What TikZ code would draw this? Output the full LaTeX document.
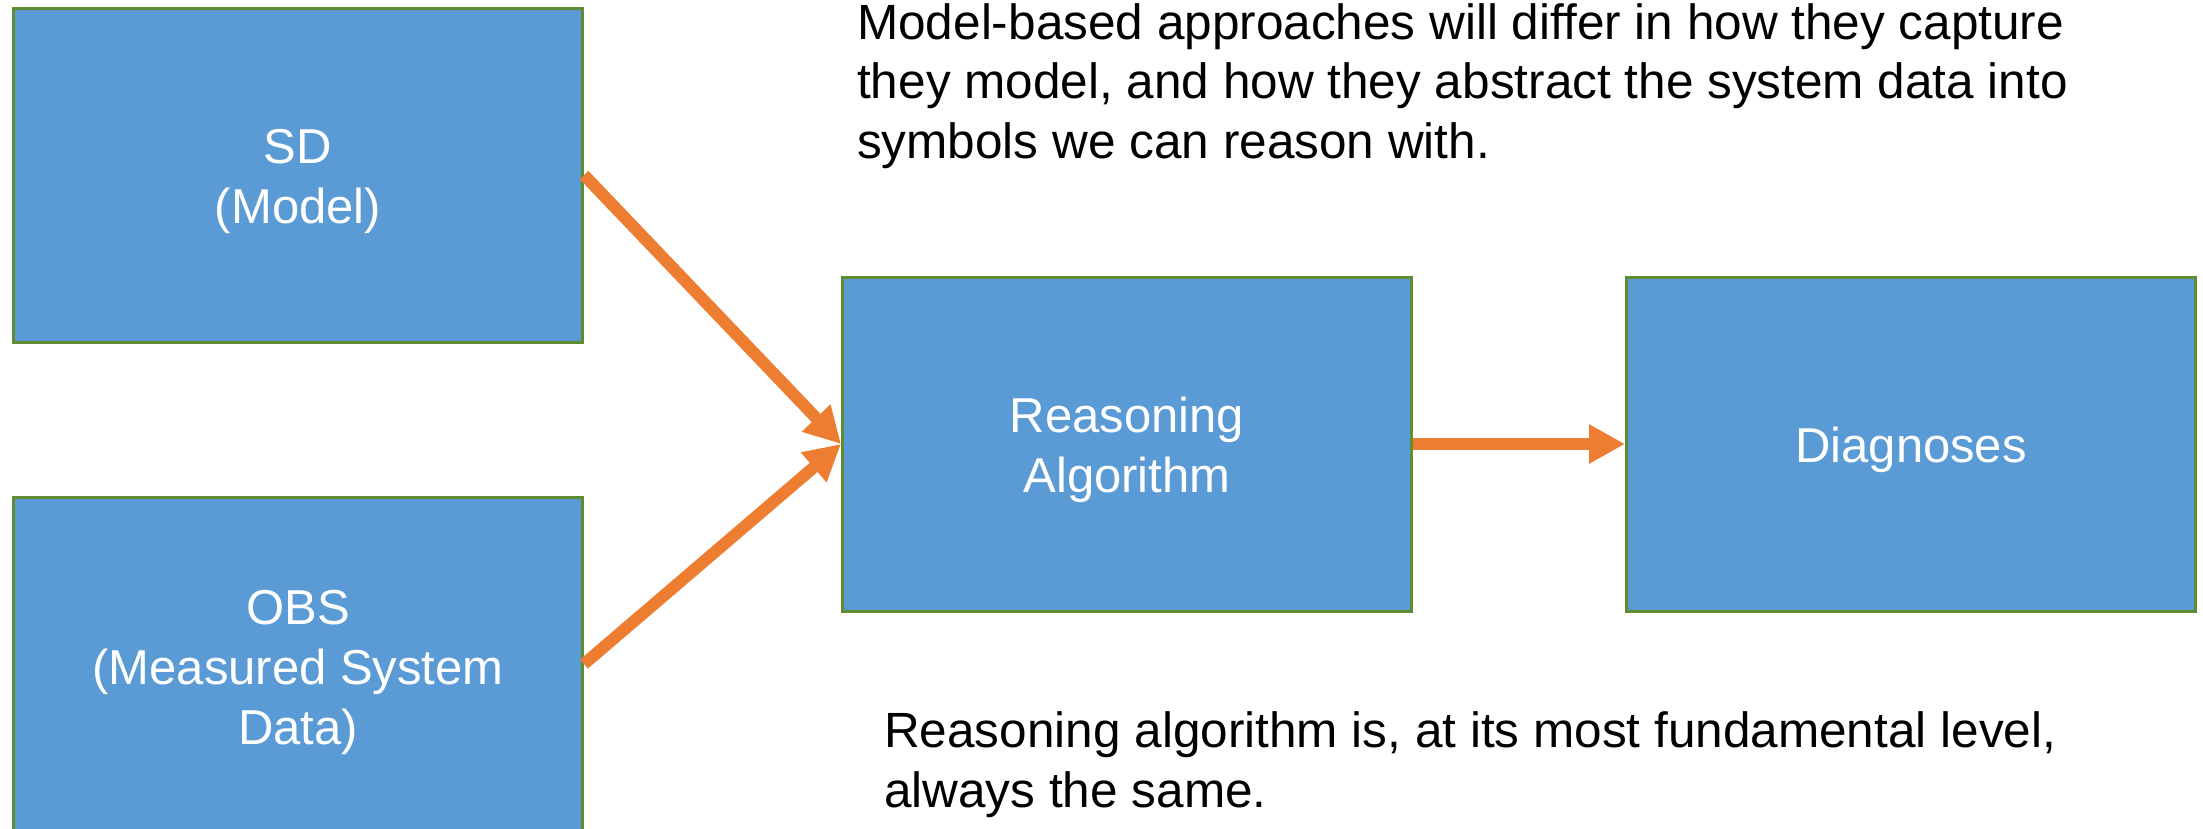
\documentclass[tikz,border=0pt]{standalone}
\usepackage{fontspec}
\setmainfont{Liberation Sans}
\usetikzlibrary{arrows.meta}
\definecolor{boxfill}{HTML}{5B9BD5}
\definecolor{boxline}{HTML}{5E8D32}
\definecolor{arroworange}{HTML}{ED7D31}
\begin{document}
\begin{tikzpicture}[x=1pt,y=-1pt,
  blockbox/.style={draw=boxline,fill=boxfill,line width=3pt,inner sep=0pt,
    minimum width=569pt,minimum height=334pt},
  boxlabel/.style={text=white,align=center,inner sep=0pt,anchor=base,
    font=\fontsize{49pt}{60pt}\selectfont},
  flowarrow/.style={draw=arroworange,line width=12pt,
    -{Triangle[length=36pt,width=37pt]}},
  note/.style={align=left,inner sep=0pt,anchor=base west,
    font=\fontsize{49.5pt}{59.5pt}\selectfont}]
\clip (0,0) rectangle (2203,828);
\fill[white] (0,0) rectangle (2203,828);
\node[blockbox] (sd) at (298,175) {};
\node[blockbox] (obs) at (298,664) {};
\node[blockbox] (ra) at (1127,444) {};
\node[blockbox] (dg) at (1911,444) {};
\node[boxlabel] (sdt) at (298,223) {SD\\(Model)};
\node[boxlabel] (obst) at (298,744) {OBS\\(Measured System\\Data)};
\node[boxlabel] (rat) at (1127,492) {Reasoning\\Algorithm};
\node[boxlabel] (dgt) at (1911,462) {Diagnoses};
\draw[flowarrow] (sd.east) -- (ra.west);
\draw[flowarrow] (obs.east) -- (ra.west);
\draw[flowarrow] (ra.east) -- (dg.west);
\node[note] (top) at (857,158) {Model-based approaches will differ in how they capture\\they model, and how they abstract the system data into\\symbols we can reason with.};
\node[note] (bottom) at (884,807) {Reasoning algorithm is, at its most fundamental level,\\always the same.};
\end{tikzpicture}
\end{document}
